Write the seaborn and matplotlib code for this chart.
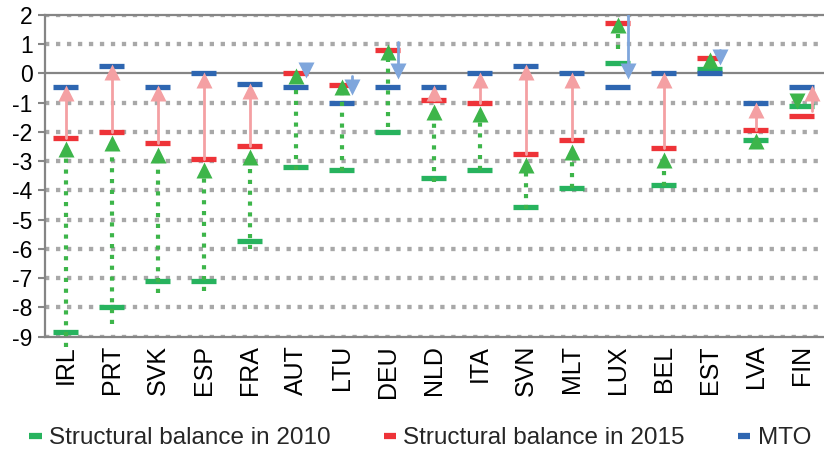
import numpy as np
import pandas as pd
import matplotlib
matplotlib.use("Agg")
import matplotlib.pyplot as plt
import seaborn as sns
from matplotlib.lines import Line2D

# ---------------- data ----------------
countries = ["IRL", "PRT", "SVK", "ESP", "FRA", "AUT", "LTU", "DEU", "NLD",
             "ITA", "SVN", "MLT", "LUX", "BEL", "EST", "LVA", "FIN"]
sb_2010 = [-8.83, -8.00, -7.10, -7.08, -5.73, -3.20, -3.29, -2.01, -3.56,
           -3.29, -4.56, -3.91, 0.35, -3.82, 0.16, -2.29, -1.10]
sb_2015 = [-2.20, -2.00, -2.38, -2.92, -2.47, 0.00, -0.38, 0.81, -0.92,
           -1.00, -2.74, -2.29, 1.72, -2.55, 0.54, -1.92, -1.47]
mto = [-0.45, 0.27, -0.46, 0.00, -0.37, -0.45, -1.00, -0.46, -0.46,
       0.00, 0.27, 0.00, -0.46, 0.00, 0.00, -1.01, -0.46]
# where each dotted green arrow starts
green_arrow_start = [-9.35, -8.57, -7.50, -7.43, -6.00, -3.31, -3.33, -1.83, -3.71,
                     -3.31, -4.64, -3.92, 0.84, -3.85, 0.16, -2.29, -1.10]
series_names = ["Structural balance in 2010", "Structural balance in 2015", "MTO"]
y_ticks = list(range(-9, 3))

# ---------------- style ----------------
sns.set_theme(style="white")
plt.rcParams["font.family"] = ["Liberation Sans", "DejaVu Sans"]

C_G = "#27B35E"
C_R = "#EE3338"
C_B = "#2E66B1"
C_GA = "#3DB54A"
C_PINK = "#F4A0A3"
C_LB = "#7FA6DC"
C_AX = "#858585"
C_GRID = "#A8A8A8"

fig = plt.figure(figsize=(8.24, 4.51), dpi=100)
ax = fig.add_axes([45 / 824, (451 - 336.7) / 451, (824 - 45) / 824, (336.7 - 15) / 451])

ymin, ymax = -9, 2
ax.set_ylim(ymin, ymax)

# grid (dotted) and solid zero line
for yv in y_ticks:
    if yv != 0:
        ax.axhline(yv, color=C_GRID, lw=3.1, linestyle=(0, (1, 1.55)), zorder=0.5)
ax.axhline(0, color=C_AX, lw=1.6, zorder=1)

# markers for the three series
df = pd.DataFrame({
    "country": countries * 3,
    "value": sb_2010 + sb_2015 + mto,
    "series": [series_names[0]] * len(countries) + [series_names[1]] * len(countries)
              + [series_names[2]] * len(countries),
})
sns.scatterplot(data=df, x="country", y="value", hue="series",
                palette={series_names[0]: C_G, series_names[1]: C_R, series_names[2]: C_B},
                marker="_", s=320, linewidth=3.8, legend=False, ax=ax, zorder=3)
ax.set_xlim(-0.45, 16.48)

# arrows
fig.canvas.draw()
unit_px = ax.bbox.height / (ymax - ymin)
tri_ms = 11.5
half = tri_ms / 2 * fig.dpi / 72 / unit_px

xs = np.arange(len(countries))
for i, x in enumerate(xs):
    g0, g1, m = sb_2010[i], sb_2015[i], mto[i]
    blue_down = m < g1
    # green: 2010 -> 2015
    if g1 >= g0:
        tip = g1 + (0.2 if blue_down else -0.12)
        c = tip - half
        ax.plot([x, x], [green_arrow_start[i], c], color=C_GA, lw=3.0,
                linestyle=(0, (1, 1.6)), zorder=4, clip_on=False, solid_capstyle="butt")
        ax.plot([x], [c], marker="^", ms=tri_ms, color=C_GA, mec="none", zorder=5)
    else:
        tip = g1 + 0.27
        c = tip + half
        ax.plot([x - 0.1], [c], marker="v", ms=tri_ms, color=C_GA, mec="none", zorder=5)
    # 2015 -> MTO
    if not blue_down:
        dx = 0.22 if g1 < g0 else 0.0
        lift = 0.2 if g1 < g0 else 0.0
        tip = m + 0.05
        c = tip - half
        ax.plot([x + dx, x + dx], [g1 + lift, c], color=C_PINK, lw=2.0, zorder=4)
        ax.plot([x + dx], [c], marker="^", ms=tri_ms, color=C_PINK, mec="none", zorder=5)
    else:
        tip = m + 0.28
        c = tip + half
        ax.plot([x + 0.22, x + 0.22], [g1 + 0.28, c], color=C_LB, lw=2.0, zorder=4)
        ax.plot([x + 0.22], [c], marker="v", ms=tri_ms, color=C_LB, mec="none", zorder=5)

# axes decorations
for side in ["left", "bottom", "top"]:
    ax.spines[side].set_visible(True)
    ax.spines[side].set_color(C_AX)
    ax.spines[side].set_linewidth(1.6)
ax.spines["right"].set_visible(False)

ax.set_yticks(y_ticks)
ax.set_yticklabels([str(v) for v in y_ticks])
ax.tick_params(axis="y", length=5, width=1.5, color=C_AX, direction="out",
               pad=4, labelsize=16.5, labelcolor="black", left=True)
ax.set_xticks(xs)
ax.set_xticklabels(countries, rotation=90, ha="center", va="top")
ax.tick_params(axis="x", length=0, pad=6, labelsize=18, labelcolor="black")
ax.set_xlabel("")
ax.set_ylabel("")

handles = [Line2D([], [], color=col, lw=4.5, solid_capstyle="butt") for col in (C_G, C_R, C_B)]
fig.legend(handles, series_names, loc="center", bbox_to_anchor=(0.51, 1 - 438 / 451),
           ncol=3, frameon=False, fontsize=17.5, handlelength=0.5, handletextpad=0.3,
           columnspacing=2.2, borderaxespad=0, borderpad=0)

fig.savefig("out.png", dpi=100)
